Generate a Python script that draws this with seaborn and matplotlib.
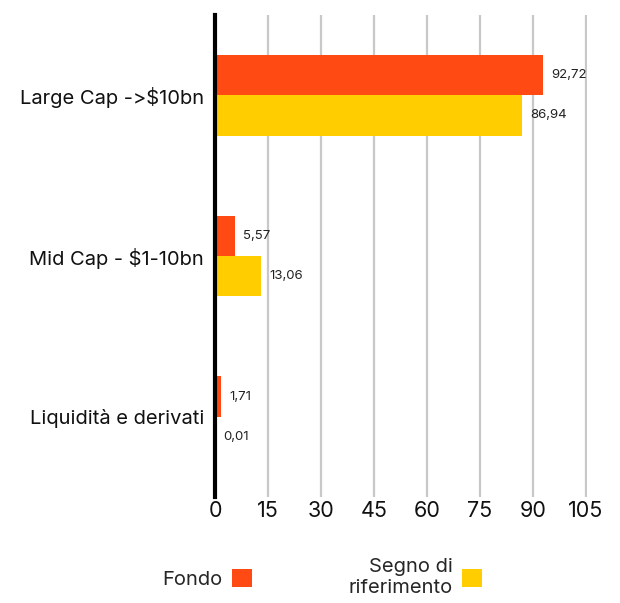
import pandas as pd
import matplotlib
matplotlib.use("Agg")
import matplotlib.pyplot as plt
import matplotlib.patches as mpatches
import seaborn as sns

# data
categories = ["Large Cap ->$10bn", "Mid Cap - $1-10bn", "Liquidità e derivati"]
fondo = [92.72, 5.57, 1.71]
riferimento = [86.94, 13.06, 0.01]
series_names = ["Fondo", "Segno di\nriferimento"]
x_ticks = [0, 15, 30, 45, 60, 75, 90, 105]

colors = ["#FF4A14", "#FFCD00"]

df = pd.DataFrame({
    "categoria": categories * 2,
    "valore": fondo + riferimento,
    "serie": [series_names[0]] * 3 + [series_names[1]] * 3,
})

sns.set_style("white")
plt.rcParams["font.family"] = ["Inter", "DejaVu Sans"]

fig = plt.figure(figsize=(6.2, 6.03), dpi=100)
ax = fig.add_axes([0.3468, 0.1758, 0.6, 0.7993])

sns.barplot(data=df, y="categoria", x="valore", hue="serie", orient="h",
            palette=colors, width=0.5, saturation=1, legend=False, ax=ax,
            linewidth=0, zorder=2)

# value labels with comma decimal
for cont, vals in zip(ax.containers, [fondo, riferimento]):
    ax.bar_label(cont, labels=[f"{v:.2f}".replace(".", ",") for v in vals],
                 padding=6, fontsize=9.5, color="#222222")

ax.set_xlim(0, 105.3)
ax.set_ylim(2.5, -0.5)
ax.set_xticks(x_ticks)
ax.set_xlabel("")
ax.set_ylabel("")
ax.tick_params(axis="x", length=0, labelsize=15.5, pad=3, colors="#111111")
ax.tick_params(axis="y", length=0, labelsize=14.5, pad=8, colors="#111111")

ax.grid(axis="x", color="#C8C8C8", linewidth=1.6, zorder=0)
ax.grid(axis="y", visible=False)
ax.set_axisbelow(True)

for s in ["top", "right", "bottom"]:
    ax.spines[s].set_visible(False)
ax.spines["left"].set_color("black")
ax.spines["left"].set_linewidth(3)
ax.spines["left"].set_zorder(5)

handles = [mpatches.Patch(color=c, linewidth=0) for c in colors]
leg = fig.legend(handles, series_names, loc="lower center",
                 bbox_to_anchor=(0.52, -0.02), ncol=2, frameon=False,
                 fontsize=14.5, markerfirst=False, handlelength=1.0,
                 handleheight=1.0, handletextpad=0.45, columnspacing=4.8)
for t in leg.get_texts():
    t.set_multialignment("right")

fig.savefig("out.png", dpi=100)
